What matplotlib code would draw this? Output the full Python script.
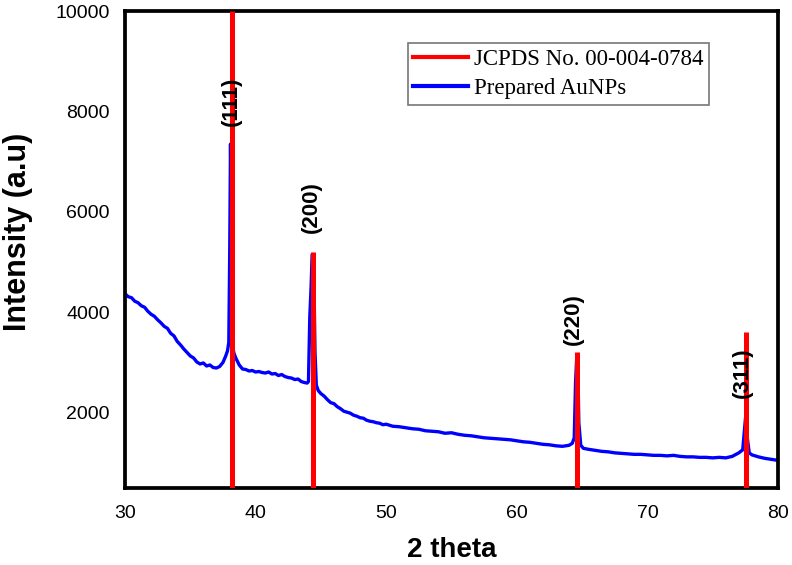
import numpy as np
import matplotlib.pyplot as plt
from matplotlib.lines import Line2D

# ── Data ──────────────────────────────────────────────────────────────────────

# JCPDS reference lines for Au
ref_two_theta = [38.18, 44.39, 64.58, 77.55]
ref_intensity = [10000, 5200, 3200, 3600]
ref_hkl = ['(111)', '(200)', '(220)', '(311)']
hkl_label_x = [38.12, 44.30, 64.32, 77.25]
hkl_label_y = [8200, 6100, 3870, 2800]

# measured pattern of the prepared AuNPs
two_theta = [
    30.00, 30.25, 30.50, 30.75, 31.00, 31.25, 31.50, 31.75, 32.00, 32.25,
    32.50, 32.75, 33.00, 33.25, 33.50, 33.75, 34.00, 34.25, 34.50, 34.75,
    35.00, 35.25, 35.50, 35.75, 36.00, 36.25, 36.50, 36.75, 37.00, 37.25,
    37.50, 37.70, 37.85, 37.95, 38.02, 38.08, 38.13, 38.18, 38.25, 38.35,
    38.50, 38.75, 39.00, 39.25, 39.50, 39.75, 40.00, 40.25, 40.50, 40.75,
    41.00, 41.25, 41.50, 41.75, 42.00, 42.25, 42.50, 42.75, 43.00, 43.25,
    43.50, 43.75, 43.95, 44.05, 44.15, 44.25, 44.33, 44.40, 44.47, 44.55,
    44.65, 44.80, 45.00, 45.25, 45.50, 45.75, 46.00, 46.25, 46.50, 46.75,
    47.00, 47.25, 47.50, 47.75, 48.00, 48.25, 48.50, 48.75, 49.00, 49.25,
    49.50, 49.75, 50.00, 50.50, 51.00, 51.50, 52.00, 52.50, 53.00, 53.50,
    54.00, 54.50, 55.00, 55.50, 56.00, 56.50, 57.00, 57.50, 58.00, 58.50,
    59.00, 59.50, 60.00, 60.50, 61.00, 61.50, 62.00, 62.50, 63.00, 63.50,
    64.00, 64.25, 64.40, 64.50, 64.60, 64.68, 64.75, 64.90, 65.10, 65.50,
    66.00, 66.50, 67.00, 67.50, 68.00, 68.50, 69.00, 69.50, 70.00, 70.50,
    71.00, 71.50, 72.00, 72.50, 73.00, 73.50, 74.00, 74.50, 75.00, 75.50,
    76.00, 76.50, 77.00, 77.30, 77.45, 77.55, 77.65, 77.80, 78.00, 78.50,
    79.00, 79.50, 80.00,
]
intensity = [
    4370, 4310, 4290, 4220, 4190, 4130, 4100, 4020, 3960, 3920,
    3850, 3790, 3720, 3680, 3580, 3530, 3420, 3350, 3270, 3200,
    3130, 3090, 3010, 2970, 2990, 2930, 2950, 2900, 2890, 2920,
    3000, 3120, 3230, 3400, 5200, 7350, 6200, 4200, 3300, 3180,
    3080, 2950, 2870, 2860, 2830, 2840, 2810, 2820, 2800, 2790,
    2810, 2770, 2780, 2740, 2760, 2720, 2700, 2690, 2660, 2670,
    2620, 2600, 2590, 2620, 3900, 4500, 5150, 5150, 4600, 3200,
    2550, 2440, 2380, 2330, 2260, 2200, 2180, 2120, 2080, 2030,
    2010, 1990, 1950, 1930, 1900, 1890, 1850, 1830, 1820, 1800,
    1790, 1760, 1770, 1730, 1720, 1700, 1680, 1670, 1640, 1630,
    1620, 1590, 1600, 1570, 1550, 1540, 1520, 1500, 1490, 1480,
    1470, 1460, 1440, 1420, 1410, 1390, 1370, 1360, 1340, 1330,
    1350, 1390, 1500, 2600, 3150, 2900, 1800, 1350, 1290, 1270,
    1250, 1230, 1220, 1200, 1190, 1180, 1170, 1170, 1160, 1150,
    1150, 1140, 1150, 1130, 1120, 1120, 1110, 1110, 1100, 1110,
    1100, 1130, 1200, 1260, 1700, 2000, 1500, 1200, 1160, 1120,
    1090, 1070, 1050,
]

x_ticks = [30, 40, 50, 60, 70, 80]
y_ticks = [2000, 4000, 6000, 8000, 10000]

# ── Plot ──────────────────────────────────────────────────────────────────────

plt.rcParams['font.family'] = ['Liberation Sans', 'DejaVu Sans']

fig = plt.figure(figsize=(7.92, 5.65), dpi=100)
ax = fig.add_axes([0.1578, 0.1363, 0.8245, 0.8442])

ax.plot(two_theta, intensity, color='#0000ff', linewidth=2.4, zorder=2)
ax.vlines(ref_two_theta, 0, ref_intensity, color='#ff0000', linewidth=3.6,
          zorder=3)

for xp, yp, txt in zip(hkl_label_x, hkl_label_y, ref_hkl):
    ax.text(xp, yp, txt, rotation=90, ha='center', va='center',
            fontsize=16, fontweight='bold', color='black', zorder=4)

ax.set_xlim(30, 80)
ax.set_ylim(500, 10000)
ax.set_xticks(x_ticks)
ax.set_yticks(y_ticks)
ax.tick_params(length=0, labelsize=14)
ax.tick_params(axis='x', pad=12)
ax.tick_params(axis='y', pad=11)

for sp in ax.spines.values():
    sp.set_linewidth(2.7)
    sp.set_color('black')

ax.set_xlabel('2 theta', fontsize=20, fontweight='bold', labelpad=11)
ax.set_ylabel('Intensity (a.u)', fontsize=22, fontweight='bold')
ax.yaxis.set_label_coords(-0.141, 0.537)

handles = [
    Line2D([0], [0], color='#ff0000', linewidth=3),
    Line2D([0], [0], color='#0000ff', linewidth=3),
]
labels = ['JCPDS No. 00-004-0784', 'Prepared AuNPs']
leg = ax.legend(handles, labels, loc='upper left',
                bbox_to_anchor=(0.433, 0.933), borderaxespad=0,
                prop={'family': 'Liberation Serif', 'size': 16.5},
                handlelength=2.4, handletextpad=0.25, borderpad=0.25,
                labelspacing=0.38, fancybox=False, framealpha=1,
                edgecolor='#777777')
leg.get_frame().set_linewidth(1.2)

fig.savefig('out.png', dpi=100)
